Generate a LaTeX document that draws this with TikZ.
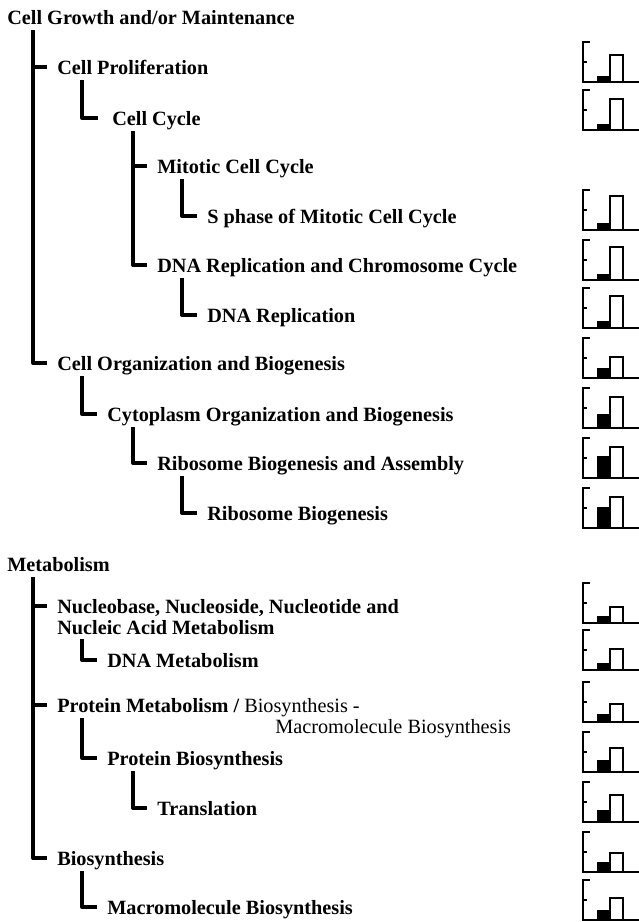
\documentclass[tikz,border=0pt]{standalone}
\usepackage{fontspec}
\setmainfont{Liberation Serif}
\usetikzlibrary{calc}
\tikzset{
  lbl/.style={anchor=base west, inner sep=0pt, font=\bfseries\fontsize{15.2}{17}\selectfont},
  reg/.style={inner sep=0pt, font=\fontsize{15.2}{17}\selectfont},
  tree/.style={line width=3pt, line join=round},
  glyph/.style={line width=1.9pt, line join=miter},
}
\newcommand\gobars[3]{%
  \fill ($(597,#1)$) rectangle ($(610,#1)-(0,#2)$);
  \draw[glyph] ($(610,#1)$) -- ($(610,#1)-(0,#3)$) -- ($(623,#1)-(0,#3)$) -- ($(623,#1)$);
  \draw[glyph] ($(589.5,#1)-(0,40)$) -- ($(583,#1)-(0,40)$) -- (583,#1) -- (639,#1);
  \draw[glyph] ($(583,#1)-(0,20)$) -- ($(586.5,#1)-(0,20)$);
}
\begin{document}
\begin{tikzpicture}[x=0.75pt,y=-0.75pt]
\useasboundingbox (0,0) rectangle (639,922);
% texts
\node[lbl] (cg) at (7,24) {Cell Growth and/or Maintenance};
\node[lbl] (cp) at (57,74) {Cell Proliferation};
\node[lbl] (cc) at (112,125) {Cell Cycle};
\node[lbl] (mc) at (157,173) {Mitotic Cell Cycle};
\node[lbl] (sp) at (207,223) {S phase of Mitotic Cell Cycle};
\node[lbl] (dr) at (157,272) {DNA Replication and Chromosome Cycle};
\node[lbl] (dn) at (207,322) {DNA Replication};
\node[lbl] (co) at (57,370) {Cell Organization and Biogenesis};
\node[lbl] (cy) at (107,421) {Cytoplasm Organization and Biogenesis};
\node[lbl] (rb) at (157,470) {Ribosome Biogenesis and Assembly};
\node[lbl] (ri) at (207,520) {Ribosome Biogenesis};
\node[lbl] (me) at (7,571) {Metabolism};
\node[lbl] (nb1) at (57,613) {Nucleobase, Nucleoside, Nucleotide and};
\node[lbl] (nb2) at (57,634) {Nucleic Acid Metabolism};
\node[lbl] (dm) at (107,667) {DNA Metabolism};
\node[lbl] (pm) at (57,712) {Protein Metabolism / \mdseries Biosynthesis -};
\node[reg, anchor=base west] (pmr) at (275,733) {Macromolecule Biosynthesis};
\node[lbl] (pb) at (107,765) {Protein Biosynthesis};
\node[lbl] (tr) at (157,815) {Translation};
\node[lbl] (bi) at (57,865) {Biosynthesis};
\node[lbl] (mb) at (107,914) {Macromolecule Biosynthesis};
% tree connectors
\draw[tree] ($(cg.base west)+(26,6)$) |- ($(cp.base west)+(-10,-7)$);
\draw[tree] ($(cg.base west)+(26,6)$) |- ($(co.base west)+(-10,-7)$);
\draw[tree] ($(cp.base west)+(25,6)$) |- ($(cc.base west)+(-14,-7)$);
\draw[tree] ($(cc.base west)+(21,6)$) |- ($(mc.base west)+(-10,-7)$);
\draw[tree] ($(cc.base west)+(21,6)$) |- ($(dr.base west)+(-10,-7)$);
\draw[tree] ($(mc.base west)+(25,6)$) |- ($(sp.base west)+(-10,-7)$);
\draw[tree] ($(dr.base west)+(25,6)$) |- ($(dn.base west)+(-10,-7)$);
\draw[tree] ($(co.base west)+(25,6)$) |- ($(cy.base west)+(-10,-7)$);
\draw[tree] ($(cy.base west)+(26,6)$) |- ($(rb.base west)+(-10,-7)$);
\draw[tree] ($(rb.base west)+(25,6)$) |- ($(ri.base west)+(-10,-7)$);
\draw[tree] ($(me.base west)+(26,6)$) |- ($(nb1.base west)+(-10,-7)$);
\draw[tree] ($(me.base west)+(26,6)$) |- ($(pm.base west)+(-10,-7)$);
\draw[tree] ($(me.base west)+(26,6)$) |- ($(bi.base west)+(-10,-7)$);
\draw[tree] ($(nb2.base west)+(25,5)$) |- ($(dm.base west)+(-10,-7)$);
\draw[tree] ($(pm.base west)+(25,6)$) |- ($(pb.base west)+(-10,-7)$);
\draw[tree] ($(pb.base west)+(26,6)$) |- ($(tr.base west)+(-10,-7)$);
\draw[tree] ($(bi.base west)+(25,6)$) |- ($(mb.base west)+(-10,-7)$);
% bar glyphs
\gobars{82}{6}{27}
\gobars{130}{6}{31}
\gobars{230}{7}{34}
\gobars{280}{6}{33}
\gobars{328}{7}{32}
\gobars{378}{10}{21}
\gobars{428}{14}{31}
\gobars{478}{22}{31}
\gobars{528}{21}{31}
\gobars{623}{7}{16}
\gobars{670}{7}{21}
\gobars{722}{8}{18}
\gobars{772}{12}{24}
\gobars{822}{12}{27}
\gobars{872}{10}{19}
\gobars{920}{10}{22}
\end{tikzpicture}
\end{document}
